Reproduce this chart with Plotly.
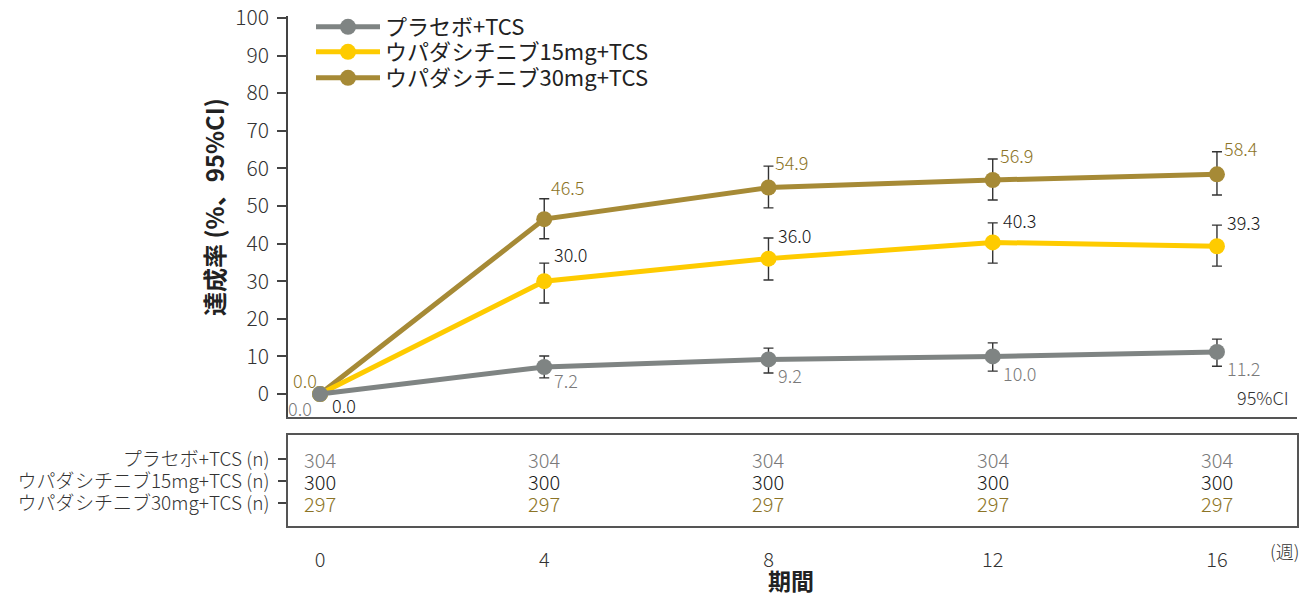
import plotly.graph_objects as go

weeks = [0, 4, 8, 12, 16]
series_names = ["プラセボ+TCS", "ウパダシチニブ15mg+TCS", "ウパダシチニブ30mg+TCS"]
placebo = [0.0, 7.2, 9.2, 10.0, 11.2]
upa15 = [0.0, 30.0, 36.0, 40.3, 39.3]
upa30 = [0.0, 46.5, 54.9, 56.9, 58.4]
placebo_hi = [0.0, 10.1, 12.2, 13.6, 14.6]
placebo_lo = [0.0, 4.3, 5.6, 6.1, 7.4]
upa15_hi = [0.0, 34.8, 41.5, 45.5, 44.9]
upa15_lo = [0.0, 24.2, 30.3, 34.8, 34.0]
upa30_hi = [0.0, 51.9, 60.6, 62.5, 64.4]
upa30_lo = [0.0, 41.3, 49.5, 51.6, 52.9]
n_placebo = [304, 304, 304, 304, 304]
n_upa15 = [300, 300, 300, 300, 300]
n_upa30 = [297, 297, 297, 297, 297]
table_labels = ["プラセボ+TCS (n)", "ウパダシチニブ15mg+TCS (n)", "ウパダシチニブ30mg+TCS (n)"]

FONT = "Noto Sans CJK JP"
C_PL, C_15, C_30 = "#7f8483", "#fecb00", "#a68a36"
T_PL, T_15, T_30 = "#7a7a7a", "#1a1a1a", "#8c7426"
AX = "#444444"
W, H = 1304, 596
L, R = 288, 7
pw = W - L - R

vals = [placebo, upa15, upa30]
his = [placebo_hi, upa15_hi, upa30_hi]
los = [placebo_lo, upa15_lo, upa30_lo]
ns = [n_placebo, n_upa15, n_upa30]
lcols = [C_PL, C_15, C_30]
tcols = [T_PL, T_15, T_30]
legend_ids = ["legend", "legend2", "legend3"]
legend_rows_px = [27, 52, 78]

fig = go.Figure()
for i in [2, 1, 0]:
    v, hi, lo = vals[i], his[i], los[i]
    fig.add_trace(go.Scatter(
        x=weeks, y=v, name=series_names[i], mode="lines+markers",
        line=dict(color=lcols[i], width=5),
        marker=dict(color=lcols[i], size=16),
        error_y=dict(type="data", symmetric=False,
                     array=[h - a for h, a in zip(hi, v)],
                     arrayminus=[a - l for a, l in zip(v, lo)],
                     color="#333333", thickness=1.4, width=5),
        legend=legend_ids[i], xaxis="x", yaxis="y"))

fig.add_trace(go.Scatter(x=weeks, y=[1] * len(weeks), mode="markers",
                         marker=dict(opacity=0), showlegend=False,
                         hoverinfo="skip", xaxis="x2", yaxis="y2"))

def lf(c, size=18):
    return dict(family=FONT, size=size, color=c, weight=300)

ann = []
for k in range(1, len(weeks)):
    ys = 12 if k == 1 else 4
    ann.append(dict(x=weeks[k], y=upa30_hi[k], xref="x", yref="y", text=f"{upa30[k]:.1f}",
                    showarrow=False, xanchor="left", yanchor="middle", xshift=5, yshift=ys,
                    font=lf(T_30)))
    ys = 9 if k == 1 else 3
    ann.append(dict(x=weeks[k], y=upa15_hi[k], xref="x", yref="y", text=f"{upa15[k]:.1f}",
                    showarrow=False, xanchor="left", yanchor="middle", xshift=8, yshift=ys,
                    font=lf(T_15)))
    ann.append(dict(x=weeks[k], y=placebo_lo[k], xref="x", yref="y", text=f"{placebo[k]:.1f}",
                    showarrow=False, xanchor="left", yanchor="middle", xshift=8, yshift=-2,
                    font=lf(T_PL)))
ann.append(dict(x=weeks[0], y=upa30[0], xref="x", yref="y", text=f"{upa30[0]:.1f}",
                showarrow=False, xanchor="center", yanchor="middle", xshift=-15, yshift=14,
                font=lf(T_30)))
ann.append(dict(x=weeks[0], y=upa15[0], xref="x", yref="y", text=f"{upa15[0]:.1f}",
                showarrow=False, xanchor="center", yanchor="middle", xshift=24, yshift=-11,
                font=lf(T_15)))
ann.append(dict(x=weeks[0], y=placebo[0], xref="x", yref="y", text=f"{placebo[0]:.1f}",
                showarrow=False, xanchor="center", yanchor="middle", xshift=-20, yshift=-14,
                font=lf(T_PL)))
ann.append(dict(x=1, y=0, xref="x domain", yref="y", text="95%CI", showarrow=False,
                xanchor="right", yanchor="middle", xshift=-6, yshift=-3,
                font=lf("#333333")))
for r in range(3):
    for k in range(len(weeks)):
        ann.append(dict(x=weeks[k], y=r + 1, xref="x2", yref="y2", text=str(ns[r][k]),
                        showarrow=False, xanchor="center", yanchor="middle", height=20,
                        font=lf(tcols[r], 20)))
ann.append(dict(x=1, y=0, xref="x2 domain", yref="y2 domain", text="(週)", showarrow=False,
                xanchor="right", yanchor="middle", yshift=-25, xshift=4,
                font=lf("#333333", 18)))
ann.append(dict(x=(213 - L) / pw, y=1 - 207 / H, xref="paper", yref="paper",
                text="<b>達成率 (%、95%CI)</b>", showarrow=False, textangle=-90,
                xanchor="center", yanchor="middle",
                font=dict(family=FONT, size=24, color="#222222")))
ann.append(dict(x=8.4, y=1 - 580 / H, xref="x2", yref="paper", text="<b>期間</b>",
                showarrow=False, xanchor="center", yanchor="middle", height=26,
                font=dict(family=FONT, size=23, color="#222222")))

xr = [-32 / 56.06, (pw - 32) / 56.06]

legend_common = dict(xanchor="left", yanchor="middle", itemwidth=64,
                     font=dict(family=FONT, size=22, color="#222222"),
                     bgcolor="rgba(0,0,0,0)")
lay = dict(
    width=W, height=H, margin=dict(l=L, r=R, t=0, b=0, autoexpand=False),
    plot_bgcolor="white", paper_bgcolor="white",
    font=dict(family=FONT, color="#333333"),
    showlegend=True,
    xaxis=dict(domain=[0, 1], range=xr, showline=True, linecolor="#555555", linewidth=1.5,
               showticklabels=False, ticks="", showgrid=False, zeroline=False, anchor="y",
               automargin=False),
    yaxis=dict(domain=[1 - 417 / H, 1 - 16 / H], range=[-6.1, 100.5], showline=True,
               linecolor=AX, linewidth=1.5, ticks="outside", ticklen=9, tickcolor=AX,
               tickwidth=1.5, tickvals=list(range(0, 101, 10)), showgrid=False,
               zeroline=False, tickfont=lf("#333333", 21), ticklabelstandoff=4,
               anchor="x", automargin=False),
    xaxis2=dict(domain=[0, 1], range=xr, showline=True, mirror=True, linecolor="#555555",
                linewidth=1.5, tickvals=weeks, ticktext=[str(w) for w in weeks], ticks="",
                ticklabelstandoff=15, showgrid=False, zeroline=False,
                tickfont=lf("#333333", 20), anchor="y2", automargin=False),
    yaxis2=dict(domain=[1 - 526 / H, 1 - 435 / H], range=[4.045, -0.091], showline=True,
                mirror=True, linecolor="#555555", linewidth=1.5, tickvals=[1, 2, 3],
                ticktext=table_labels, ticks="outside", ticklen=8, tickcolor="#444444",
                tickwidth=1.5, showgrid=False, zeroline=False, ticklabelstandoff=5,
                tickfont=lf("#333333", 19), anchor="x2", automargin=False),
    annotations=ann,
)
for lid, ypx in zip(legend_ids, legend_rows_px):
    lay[lid] = dict(x=(311 - L) / pw, y=1 - ypx / H, **legend_common)
fig.update_layout(**lay)

fig.write_html("out.html")
